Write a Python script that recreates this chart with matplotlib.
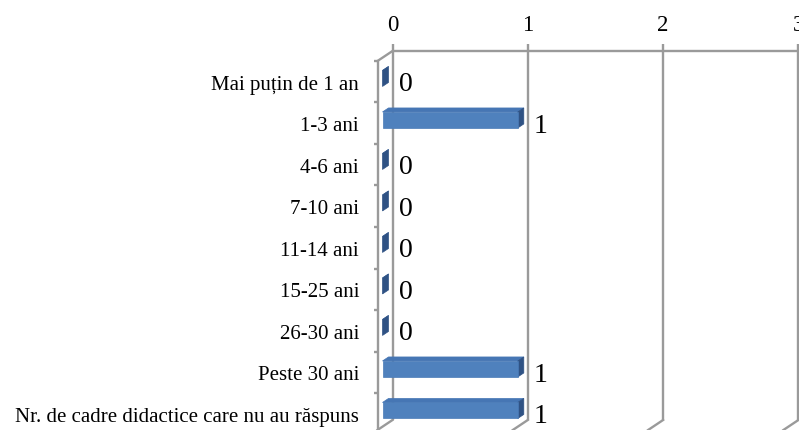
import numpy as np
import matplotlib
matplotlib.use('Agg')
import matplotlib.pyplot as plt
from matplotlib.patches import Polygon

categories = ["Mai puțin de 1 an", "1-3 ani", "4-6 ani", "7-10 ani", "11-14 ani",
              "15-25 ani", "26-30 ani", "Peste 30 ani",
              "Nr. de cadre didactice care nu au răspuns"]
values = [0, 1, 0, 0, 0, 0, 0, 1, 1]
x_ticks = [0, 1, 2, 3]

plt.rcParams['font.family'] = ['Liberation Serif', 'DejaVu Serif']

W, H = 799, 430
fig = plt.figure(figsize=(W / 100, H / 100), dpi=100)
L, R, T, B = 392.5, 798.4, 51, 420       # back plane in pixels
ROW = 41.5                               # pixels per category band
ax = fig.add_axes([L / W, (H - B) / H, (R - L) / W, (B - T) / H])
ax.set_xlim(x_ticks[0], x_ticks[-1])
ymax = (B - T) / ROW
ax.set_ylim(ymax, 0)
ax.axis('off')

ux = (R - L) / (x_ticks[-1] - x_ticks[0])


def px(dx, dy):
    return dx / ux, dy / ROW


grid_c = '#9a9a9a'
glw = 1.7
wdx, wdy = px(-15, 10)

# back wall grid + top line + floor stubs + small top ticks
ax.plot([x_ticks[0], x_ticks[-1]], [0, 0], color=grid_c, lw=glw, clip_on=False, solid_capstyle='butt')
for t in x_ticks:
    ax.plot([t, t], [0, ymax], color=grid_c, lw=glw, clip_on=False, solid_capstyle='butt')
    ax.plot([t, t + wdx], [ymax, ymax + wdy], color=grid_c, lw=glw, clip_on=False)
    ax.plot([t, t], [0, -7 / ROW], color=grid_c, lw=glw, clip_on=False, solid_capstyle='butt')
    ax.text(t, (30.7 - T) / ROW, str(t), ha='center', va='baseline', fontsize=16.5)

# left wall
ax.plot([0, wdx], [0, wdy], color=grid_c, lw=glw, clip_on=False)
ax.plot([wdx, wdx], [wdy, ymax + wdy + 2], color=grid_c, lw=glw, clip_on=False, solid_capstyle='butt')
for k in range(len(categories) + 1):
    y = k + wdy
    ax.plot([wdx - 4 / ux, wdx], [y, y], color=grid_c, lw=glw, clip_on=False, solid_capstyle='butt')

# bars
front_c = '#4F81BD'
top_c = '#4676b4'
side_c = '#2f5284'
h = 16 / ROW
fx, fy = px(-10, 6.7)
bx, by = px(-4, 2.7)
for i, (cat, v) in enumerate(zip(categories, values)):
    yc = i + 0.5
    top_f, bot_f = yc - h / 2 + fy, yc + h / 2 + fy
    top_b, bot_b = yc - h / 2 + by, yc + h / 2 + by
    ax.add_patch(Polygon([(fx, top_f), (v + fx, top_f), (v + bx, top_b), (bx, top_b)],
                         closed=True, facecolor=top_c, edgecolor=top_c, lw=0.5, clip_on=False, zorder=3))
    ax.add_patch(Polygon([(v + fx, top_f), (v + bx, top_b), (v + bx, bot_b), (v + fx, bot_f)],
                         closed=True, facecolor=side_c, edgecolor=side_c, lw=0.5, clip_on=False, zorder=3))
    if v > 0:
        ax.add_patch(Polygon([(fx, top_f), (v + fx, top_f), (v + fx, bot_f), (fx, bot_f)],
                             closed=True, facecolor=front_c, edgecolor='#4a7bb7', lw=0.5, clip_on=False, zorder=4))
    # value label
    ax.text(v + 6 / ux, yc + wdy + 9.4 / ROW, f"{v}", ha='left', va='baseline', fontsize=20, zorder=5)
    # category label
    ax.text((359 - L) / ux, yc + wdy + 8 / ROW, cat, ha='right', va='baseline', fontsize=15)

fig.savefig('out.png', dpi=100)
